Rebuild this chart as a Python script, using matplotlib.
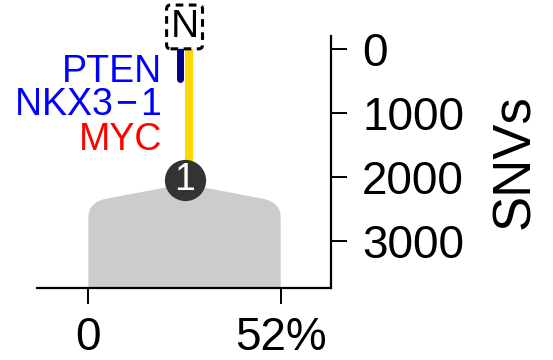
import matplotlib
matplotlib.use("Agg")
import matplotlib.pyplot as plt
from matplotlib.path import Path
from matplotlib.patches import PathPatch

plt.rcParams['font.family'] = ['Liberation Sans', 'DejaVu Sans']

# ---- data ----
clone_extent = [0, 52]            # cellular fraction range (%)
clone_apex_snv = 2110             # SNV depth at top centre of clone shape
clone_shoulder_snv = 2345         # SNV depth where the flat slope ends
clone_edge_snv = 2630             # SNV depth where the sides become vertical
trunk_x = 26                      # x position of the trunk (%)
node_snv = 2045                   # SNVs at clone 1 node
node_label = '1'
driver_seg = [0, 470]             # navy driver segment along trunk
driver_genes = ['PTEN', 'NKX3\u200a\u2212\u200a1', 'MYC']
driver_colors = ['#0000FF', '#0000FF', '#FF0000']
driver_snv = [357, 873, 1422]
root_label = 'N'
root_snv = -350
yticks = [0, 1000, 2000, 3000]
xticks = [0, 52]
xticklabels = ['0', '52%']
xlim = [-13.9, 65.6]
ylim = [3741, -208]

fig = plt.figure(figsize=(5.53, 3.6), dpi=100)
ax = fig.add_axes([37/553, 72/360, (331-37)/553, (288-36)/360])
ax.set_xlim(*xlim)
ax.set_ylim(*ylim)

# clone shape
x0, x1 = clone_extent
bottom = ylim[0] + 500
corner_dx = 4.5
verts = [
    (x0, bottom),
    (x0, clone_edge_snv),
    (x0, 2409), (x0 + corner_dx, clone_shoulder_snv),
    (trunk_x, clone_apex_snv),
    (x1 - corner_dx, clone_shoulder_snv),
    (x1, 2409), (x1, clone_edge_snv),
    (x1, bottom),
    (x0, bottom),
]
codes = [Path.MOVETO, Path.LINETO, Path.CURVE3, Path.CURVE3, Path.LINETO,
         Path.LINETO, Path.CURVE3, Path.CURVE3, Path.LINETO, Path.CLOSEPOLY]
ax.add_patch(PathPatch(Path(verts, codes), facecolor='#CDCCCB', edgecolor='none', zorder=1))

# trunk
ax.plot([trunk_x + 1.1, trunk_x + 1.1], [0, node_snv], color='#FFD700', lw=5.8,
        solid_capstyle='butt', zorder=2)
ax.plot([trunk_x - 1.3, trunk_x - 1.3], driver_seg, color='#000080', lw=5.0,
        solid_capstyle='round', zorder=3)

# node
ax.scatter([trunk_x], [node_snv], s=880, color='#333333', zorder=4, linewidths=0)
ax.text(trunk_x, node_snv, node_label, color='white', fontsize=27, ha='center',
        va='center', zorder=5)

# root
ax.text(trunk_x, root_snv, root_label, fontsize=28, ha='center', va='center',
        zorder=5, clip_on=False,
        bbox=dict(boxstyle='round,pad=0.1,rounding_size=0.1', fc='white', ec='black',
                  ls=(0, (2.5, 1.8)), lw=2.2))

# driver genes
for g, c, s in zip(driver_genes, driver_colors, driver_snv):
    ax.text(trunk_x - 6.1, s, g, color=c, fontsize=27, ha='right', va='center')

# axes styling
for sp in ['top', 'left']:
    ax.spines[sp].set_visible(False)
for sp in ['right', 'bottom']:
    ax.spines[sp].set_linewidth(1.6)
ax.yaxis.tick_right()
ax.yaxis.set_label_position('right')
ax.set_yticks(yticks)
ax.set_yticklabels([str(v) for v in yticks])
ax.set_xticks(xticks)
ax.set_xticklabels(xticklabels)
ax.tick_params(axis='both', labelsize=33, length=11.5, width=1.4, pad=9)
ax.tick_params(axis='y', pad=11)
ax.set_ylabel('SNVs', fontsize=38)
ax.yaxis.label.set_ha('center')
ax.yaxis.label.set_va('center')
ax.yaxis.set_label_coords((515 - 37) / 294, 0.502)

fig.savefig('out.png', dpi=100)
